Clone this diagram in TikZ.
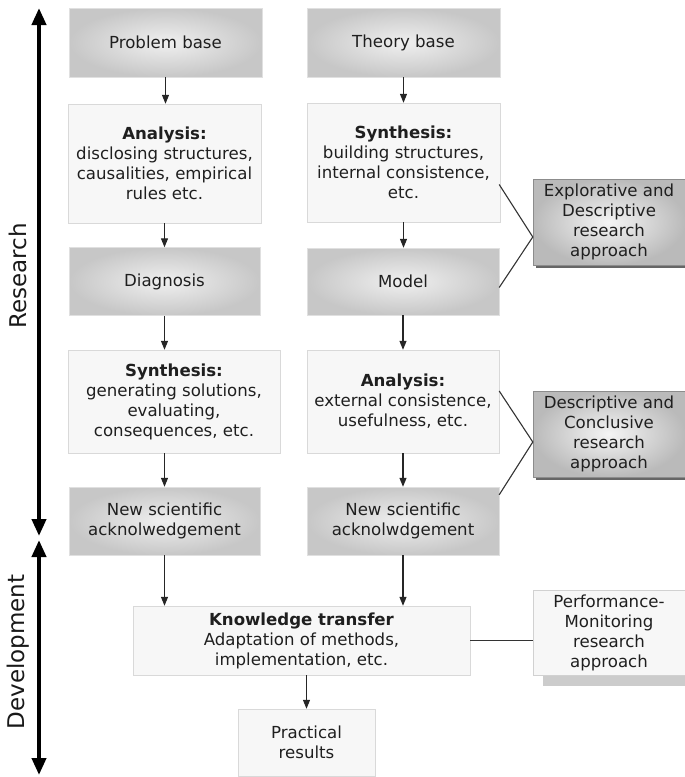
\documentclass[tikz,border=0pt]{standalone}
\usepackage{fontspec}
\setmainfont{DejaVu Sans}
\usepackage{tikz}
\usetikzlibrary{arrows.meta,calc,shadows}
\tikzstyle{stagebox} = [rectangle, shading=radial, inner color=black!6, outer color=black!22, draw=black!12, text=black!88, align=center, inner sep=0pt]
\tikzstyle{workbox} = [rectangle, draw=black!15, fill=black!3, text=black!88, align=center, inner sep=0pt]
\tikzstyle{approach} = [rectangle, shading=radial, inner color=black!4, outer color=black!27, draw=black!45, text=black!88, align=center, inner sep=0pt, drop shadow={shadow xshift=3pt, shadow yshift=-3pt, fill=black!60, opacity=1}]
\tikzstyle{approachlight} = [rectangle, draw=black!18, fill=black!3, text=black!88, align=center, inner sep=0pt, drop shadow={shadow xshift=10pt, shadow yshift=-11pt, fill=black!20, opacity=1}]
\tikzstyle{flow} = [-{Triangle[width=7pt,length=9pt]}, line width=1.2pt, black!85]
\tikzstyle{link} = [line width=1.1pt, black!80]
\tikzstyle{axis} = [{Triangle[width=14pt,length=17pt]}-{Triangle[width=14pt,length=17pt]}, line width=4pt]
\tikzstyle{axislabel} = [rotate=90, text=black!90, font=\fontsize{23}{28}\selectfont]
\begin{document}
\begin{tikzpicture}[x=1pt, y=-1pt, font=\fontsize{16.6}{20}\selectfont]
    \useasboundingbox (0,0) rectangle (685,777);
    \node[stagebox, minimum width=193pt, minimum height=69pt] (pb) at (165.5,42.5) {Problem base};
    \node[stagebox, minimum width=193pt, minimum height=69pt] (tb) at (403.5,42.5) {Theory base};
    \node[workbox, minimum width=193pt, minimum height=119pt] (anl) at (164.5,163.5) {\textbf{Analysis:}\\disclosing structures,\\causalities, empirical\\rules etc.};
    \node[workbox, minimum width=193pt, minimum height=119pt] (syn) at (403.5,162.5) {\textbf{Synthesis:}\\building structures,\\internal consistence,\\etc.};
    \node[stagebox, minimum width=191pt, minimum height=68pt] (dia) at (164.5,281.5) {Diagnosis};
    \node[stagebox, minimum width=192pt, minimum height=67pt] (mod) at (403,281.5) {Model};
    \node[workbox, minimum width=212pt, minimum height=103pt] (syn2) at (174,401.5) {\textbf{Synthesis:}\\generating solutions,\\evaluating,\\consequences, etc.};
    \node[workbox, minimum width=192pt, minimum height=103pt] (anl2) at (403,401.5) {\textbf{Analysis:}\\external consistence,\\usefulness, etc.};
    \node[stagebox, minimum width=191pt, minimum height=68pt] (nsa1) at (164.5,521) {New scientific\\acknolwedgement};
    \node[stagebox, minimum width=192pt, minimum height=68pt] (nsa2) at (403,521) {New scientific\\acknolwdgement};
    \node[workbox, minimum width=337pt, minimum height=69pt] (kt) at (301.5,640.5) {\textbf{Knowledge transfer}\\Adaptation of methods,\\implementation, etc.};
    \node[workbox, minimum width=137pt, minimum height=67pt] (pr) at (306.5,742.5) {Practical\\results};
    \node[approach, minimum width=152pt, minimum height=86pt] (exp) at (609,222) {Explorative and\\Descriptive\\research\\approach};
    \node[approach, minimum width=152pt, minimum height=86pt] (dca) at (609,434) {Descriptive and\\Conclusive\\research\\approach};
    \node[approachlight, minimum width=152pt, minimum height=85pt] (pma) at (609,632.5) {Performance-\\Monitoring\\research\\approach};
    \draw[flow] (pb.south) -- (pb.south |- anl.north);
    \draw[flow] (anl.south) -- (anl.south |- dia.north);
    \draw[flow] (dia.south) -- (dia.south |- syn2.north);
    \draw[flow] (nsa1.north |- syn2.south) -- (nsa1.north);
    \draw[flow] (tb.south) -- (tb.south |- syn.north);
    \draw[flow] (syn.south) -- (syn.south |- mod.north);
    \draw[flow] (mod.south) -- (mod.south |- anl2.north);
    \draw[flow] (anl2.south) -- (anl2.south |- nsa2.north);
    \draw[flow] (nsa1.south) -- (nsa1.south |- kt.north);
    \draw[flow] (nsa2.south) -- (nsa2.south |- kt.north);
    \draw[flow] (pr.north |- kt.south) -- (pr.north);
    \coordinate (e1) at ($(exp.west)+(0,15)$);
    \coordinate (e2) at ($(dca.west)+(0,8)$);
    \draw[link] ($(syn.east)+(-1,22)$) -- (e1) -- ($(mod.east)+(0,6)$);
    \draw[link] ($(anl2.east)+(0,-10.5)$) -- (e2) -- ($(nsa2.north east)+(0,8)$);
    \draw[link] (kt.east) -- (kt.east -| pma.west);
    \coordinate (rtop) at (39,8);
    \coordinate (rbot) at (39,536);
    \coordinate (dtop) at (39,540);
    \coordinate (dbot) at (39,775);
    \draw[axis] (rbot) -- (rtop);
    \draw[axis] (dtop) -- (dbot);
    \node[axislabel] (rlab) at (18,276) {Research};
    \node[axislabel] (dlab) at (18,652) {Development};
\end{tikzpicture}
\end{document}
